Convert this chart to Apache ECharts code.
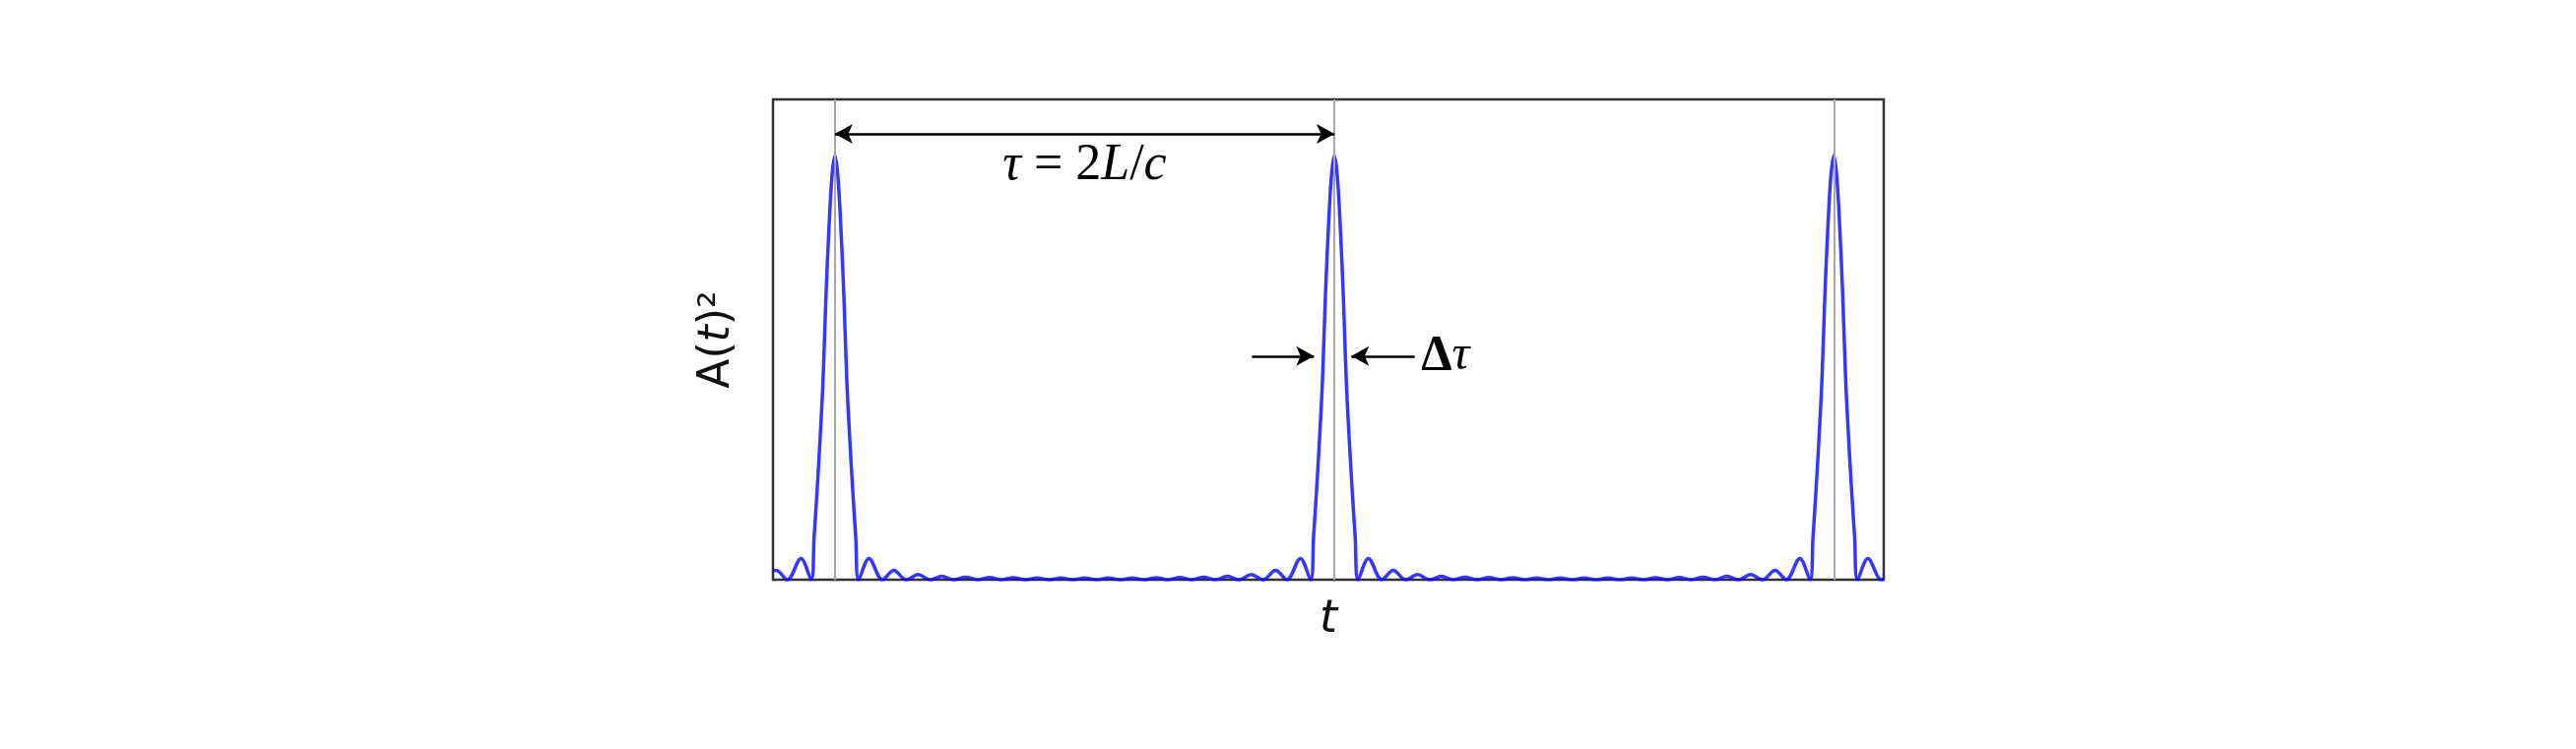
<!DOCTYPE html>
<html>
<head>
    <meta charset="utf-8"/>
    <title>A(t)^2 pulse train</title>
    <script src="https://cdn.jsdelivr.net/npm/echarts@6/dist/echarts.min.js"></script>
    <style>
        html, body { margin: 0; padding: 0; background: #fff; }
        #chartPulse { width: 2616px; height: 761px; }
    </style>
</head>
<body>
<div id="chartPulse"></div>
<script>
    // 时间轴 (以脉冲周期为单位)
    var timeAxis = [
        -0.124, -0.1176, -0.0952, -0.0681,
        -0.0476, -0.0417, -0.0357, -0.0298, -0.0238, -0.0179, -0.0119, -0.006, 0,
        0.006, 0.0119, 0.0179, 0.0238, 0.0298, 0.0357, 0.0417, 0.0476,
        0.0681, 0.0952, 0.1176, 0.1429, 0.1667, 0.1905,
        0.2143, 0.2381, 0.2619, 0.2857, 0.3095, 0.3333, 0.3571, 0.381, 0.4048, 0.4286,
        0.4524, 0.4762, 0.5, 0.5238, 0.5476, 0.5714, 0.5952, 0.619, 0.6429, 0.6667,
        0.6905, 0.7143, 0.7381, 0.7619, 0.7857, 0.8095, 0.8333, 0.8571, 0.8824, 0.9048,
        0.9319,
        0.9524, 0.9583, 0.9643, 0.9702, 0.9762, 0.9821, 0.9881, 0.994, 1,
        1.006, 1.0119, 1.0179, 1.0238, 1.0298, 1.0357, 1.0417, 1.0476,
        1.0681, 1.0952, 1.1176, 1.1429, 1.1667, 1.1905,
        1.2143, 1.2381, 1.2619, 1.2857, 1.3095, 1.3333, 1.3571, 1.381, 1.4048, 1.4286,
        1.4524, 1.4762, 1.5, 1.5238, 1.5476, 1.5714, 1.5952, 1.619, 1.6429, 1.6667,
        1.6905, 1.7143, 1.7381, 1.7619, 1.7857, 1.8095, 1.8333, 1.8571, 1.8824, 1.9048,
        1.9319,
        1.9524, 1.9583, 1.9643, 1.9702, 1.9762, 1.9821, 1.9881, 1.994, 2,
        2.006, 2.0119, 2.0179, 2.0238, 2.0298, 2.0357, 2.0417, 2.0476,
        2.0681, 2.0952, 2.1
    ];

    // |A(t)|^2, 峰值归一化
    var intensity = [
        0.021, 0.022, 0, 0.05,
        0, 0.10, 0.21, 0.33, 0.47, 0.67, 0.83, 0.95, 1,
        0.95, 0.83, 0.67, 0.47, 0.33, 0.21, 0.10, 0,
        0.05, 0, 0.022, 0, 0.012, 0,
        0.008, 0, 0.006, 0, 0.005, 0, 0.0045, 0, 0.004, 0,
        0.004, 0, 0.004, 0, 0.004, 0, 0.004, 0, 0.0045, 0,
        0.005, 0, 0.006, 0, 0.008, 0, 0.012, 0, 0.022, 0,
        0.05,
        0, 0.10, 0.21, 0.33, 0.47, 0.67, 0.83, 0.95, 1,
        0.95, 0.83, 0.67, 0.47, 0.33, 0.21, 0.10, 0,
        0.05, 0, 0.022, 0, 0.012, 0,
        0.008, 0, 0.006, 0, 0.005, 0, 0.0045, 0, 0.004, 0,
        0.004, 0, 0.004, 0, 0.004, 0, 0.004, 0, 0.0045, 0,
        0.005, 0, 0.006, 0, 0.008, 0, 0.012, 0, 0.022, 0,
        0.05,
        0, 0.10, 0.21, 0.33, 0.47, 0.67, 0.83, 0.95, 1,
        0.95, 0.83, 0.67, 0.47, 0.33, 0.21, 0.10, 0,
        0.05, 0, 0.002
    ];

    // 脉冲中心 (灰色竖线)
    var pulseCenters = [0, 1, 2];

    var pulseData = [];
    for (var i = 0; i < timeAxis.length; i++) {
        pulseData.push([timeAxis[i], intensity[i]]);
    }

    var chartPulse = echarts.init(document.getElementById('chartPulse'));
    var arrowSize = [15, 18];
    var option = {
        animation: false,
        grid: {
            left: 785,
            right: 703,
            top: 101,
            bottom: 172,
            show: true,
            borderColor: '#333',
            borderWidth: 2.5,
            backgroundColor: '#fff'
        },
        xAxis: {
            type: 'value',
            min: -0.124,
            max: 2.1,
            axisLine: {show: false},
            axisTick: {show: false},
            axisLabel: {show: false},
            splitLine: {show: false},
            name: 't',
            nameLocation: 'middle',
            nameGap: 18,
            nameTextStyle: {
                fontFamily: 'DejaVu Sans',
                fontStyle: 'italic',
                fontSize: 46,
                color: '#111'
            }
        },
        yAxis: {
            type: 'value',
            min: 0,
            max: 1.1323,
            axisLine: {show: false},
            axisTick: {show: false},
            axisLabel: {show: false},
            splitLine: {show: false},
            name: 'A({i|t})²',
            nameLocation: 'middle',
            nameGap: 34,
            nameTextStyle: {
                fontFamily: 'DejaVu Sans',
                fontSize: 44,
                color: '#111',
                rich: {
                    i: {fontFamily: 'DejaVu Sans', fontStyle: 'italic', fontSize: 44, color: '#111'}
                }
            }
        },
        series: [
            {
                // 灰色竖线 + 箭头
                type: 'line',
                data: [],
                z: 1,
                markLine: {
                    silent: true,
                    animation: false,
                    label: {show: false},
                    symbol: 'none',
                    lineStyle: {color: '#a8a8a8', width: 2, type: 'solid'},
                    data: [
                        {xAxis: pulseCenters[0]},
                        {xAxis: pulseCenters[1]},
                        {xAxis: pulseCenters[2]},
                        [
                            {coord: [0, 1.051], symbol: 'arrow', symbolSize: arrowSize, lineStyle: {color: '#000', width: 2.5}},
                            {coord: [1, 1.051], symbol: 'arrow', symbolSize: arrowSize}
                        ],
                        [
                            {coord: [0.835, 0.527], symbol: 'none', lineStyle: {color: '#000', width: 2.5}},
                            {coord: [0.959, 0.527], symbol: 'arrow', symbolSize: arrowSize}
                        ],
                        [
                            {coord: [1.161, 0.527], symbol: 'none', lineStyle: {color: '#000', width: 2.5}},
                            {coord: [1.034, 0.527], symbol: 'arrow', symbolSize: arrowSize}
                        ]
                    ]
                }
            },
            {
                name: 'A(t)^2',
                type: 'line',
                z: 3,
                data: pulseData,
                smooth: 0.35,
                showSymbol: false,
                symbol: 'none',
                lineStyle: {color: 'rgba(10, 10, 255, 0.82)', width: 3.5}
            }
        ]
    };
    chartPulse.setOption(option);

    // 公式标注, 用数据坐标定位
    var tauPos = chartPulse.convertToPixel({gridIndex: 0}, [0.5, 0.977]);
    var dTauPos = chartPulse.convertToPixel({gridIndex: 0}, [1.1736, 0.527]);
    var mathFont = 'Liberation Serif';
    chartPulse.setOption({
        graphic: [
            {
                type: 'text',
                x: tauPos[0],
                y: tauPos[1],
                z: 10,
                style: {
                    text: '{i|τ}\u2005=\u20052{i|L}/{i|c}',
                    align: 'center',
                    verticalAlign: 'middle',
                    fontFamily: mathFont,
                    fontSize: 52,
                    fill: '#000',
                    rich: {
                        i: {fontFamily: mathFont, fontStyle: 'italic', fontSize: 52, fill: '#000'}
                    }
                }
            },
            {
                type: 'text',
                x: dTauPos[0],
                y: dTauPos[1],
                z: 10,
                style: {
                    text: '{b|Δ}{i|τ}',
                    align: 'left',
                    verticalAlign: 'middle',
                    fontFamily: mathFont,
                    fontSize: 50,
                    fill: '#000',
                    rich: {
                        b: {fontFamily: mathFont, fontWeight: 'bold', fontSize: 50, fill: '#000'},
                        i: {fontFamily: mathFont, fontStyle: 'italic', fontSize: 50, fill: '#000'}
                    }
                }
            }
        ]
    });
</script>
</body>
</html>
